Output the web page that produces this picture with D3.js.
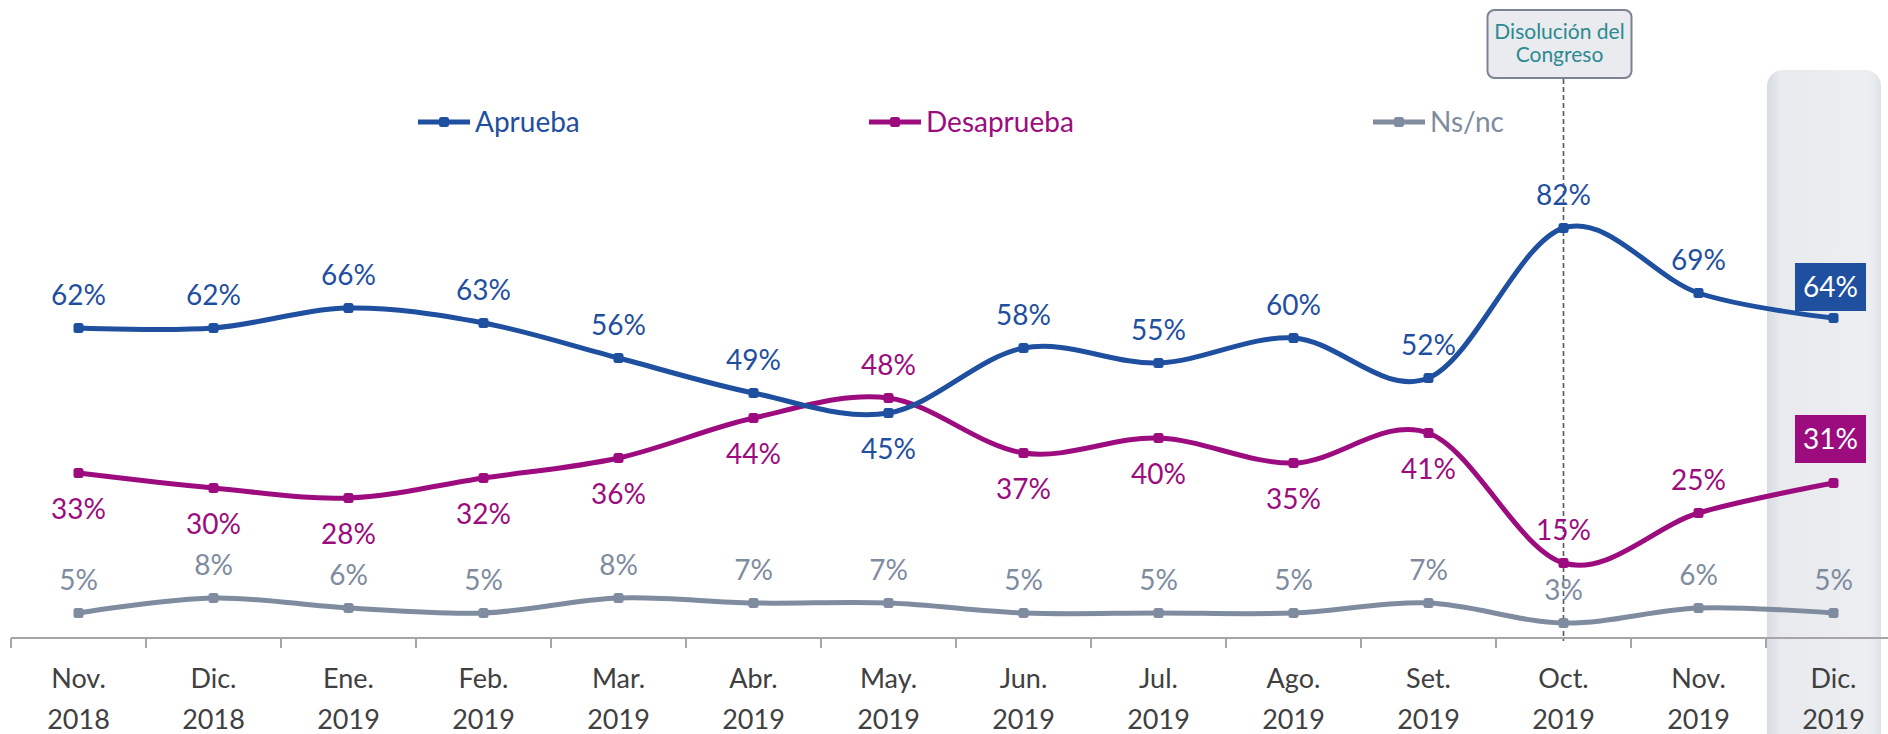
<!DOCTYPE html>
<html><head><meta charset="utf-8">
<script src="https://cdn.jsdelivr.net/npm/d3@7"></script>
<style>html,body{margin:0;padding:0;background:#fff;overflow:hidden}svg{display:block}</style>
</head><body>
<svg id="c" width="1888" height="734"></svg>
<script>
const months = ["Nov.","Dic.","Ene.","Feb.","Mar.","Abr.","May.","Jun.","Jul.","Ago.","Set.","Oct.","Nov.","Dic."];
const years  = ["2018","2018","2019","2019","2019","2019","2019","2019","2019","2019","2019","2019","2019","2019"];
const aprueba    = [62,62,66,63,56,49,45,58,55,60,52,82,69,64];
const desaprueba = [33,30,28,32,36,44,48,37,40,35,41,15,25,31];
const nsnc       = [5,8,6,5,8,7,7,5,5,5,7,3,6,5];
const apruebaPos    = ["a","a","a","a","a","a","b","a","a","a","a","a","a","box"];
const desapruebaPos = ["b","b","b","b","b","b","a","b","b","b","b","a","a","box"];
const nsncPos       = ["a","a","a","a","a","a","a","a","a","a","a","a","a","a"];
const seriesNames = ["Aprueba","Desaprueba","Ns/nc"];
const annotation = ["Disolución del","Congreso"];
const annotIndex = 11;

const colors = {"Aprueba":"#1f4f9f","Desaprueba":"#9c0c7e","Ns/nc":"#7f8b9f"};
const FONT = "Lato, 'Open Sans', sans-serif";
const svg = d3.select("#c");
const defs = svg.append("defs");

const keys = months.map((m,i)=>i);
const x = d3.scaleBand().domain(keys).range([11, 11 + 135*14]);
const cx = i => x(i) + x.bandwidth()/2;
const y = d3.scaleLinear().domain([0,100]).range([638,138]);

// highlight column for last period
const g0 = defs.append("linearGradient").attr("id","hl").attr("x1","0").attr("x2","1").attr("y1","0").attr("y2","0");
g0.append("stop").attr("offset","0").attr("stop-color","#d8dbe2");
g0.append("stop").attr("offset","0.12").attr("stop-color","#e8eaee");
g0.append("stop").attr("offset","0.9").attr("stop-color","#eceef2");
g0.append("stop").attr("offset","1").attr("stop-color","#dfe2e7");
const last = months.length-1;
svg.append("rect").attr("x", x(last)+1).attr("y",70).attr("width",114).attr("height",700)
  .attr("rx",16).attr("fill","url(#hl)");

// axis
const axisG = svg.append("g").attr("transform","translate(0,638)");
axisG.append("line").attr("x1",11).attr("x2",1888).attr("stroke","#a6a6a6").attr("stroke-width",2);
axisG.selectAll("line.tick").data(keys).join("line").attr("class","tick")
  .attr("x1",d=>x(d)).attr("x2",d=>x(d)).attr("y1",0).attr("y2",10)
  .attr("stroke","#a6a6a6").attr("stroke-width",2);
axisG.selectAll("text.m").data(keys).join("text").attr("class","m")
  .attr("x",d=>cx(d)).attr("y",50).attr("text-anchor","middle")
  .attr("font-family",FONT).attr("font-size",27).attr("fill","#404040").text(d=>months[d]);
axisG.selectAll("text.yr").data(keys).join("text").attr("class","yr")
  .attr("x",d=>cx(d)).attr("y",91).attr("text-anchor","middle")
  .attr("font-family",FONT).attr("font-size",27).attr("fill","#404040").text(d=>years[d]);

// annotation
const ax = cx(annotIndex);
svg.append("line").attr("x1",ax).attr("x2",ax).attr("y1",79).attr("y2",641)
  .attr("stroke","#4f5868").attr("stroke-width",1.6).attr("stroke-dasharray","5,3");
svg.append("rect").attr("x",ax-76).attr("y",10).attr("width",144).attr("height",68).attr("rx",7)
  .attr("fill","#e9ebef").attr("stroke","#7b8494").attr("stroke-width",2);
svg.selectAll("text.an").data(annotation).join("text").attr("class","an")
  .attr("x",ax-4).attr("y",(d,i)=>39+i*23).attr("text-anchor","middle")
  .attr("font-family",FONT).attr("font-size",21).attr("fill","#2b8a90").text(d=>d);

// lines
const line = d3.line().x((d,i)=>cx(i)).y(d=>y(d)).curve(d3.curveCatmullRom.alpha(0));
const series = [
  {name:"Aprueba", values:aprueba, pos:apruebaPos},
  {name:"Desaprueba", values:desaprueba, pos:desapruebaPos},
  {name:"Ns/nc", values:nsnc, pos:nsncPos}
];
[series[2],series[1],series[0]].forEach(s=>{
  const c = colors[s.name];
  svg.append("path").datum(s.values).attr("d",line).attr("fill","none")
    .attr("stroke",c).attr("stroke-width",5).attr("stroke-linejoin","round");
  svg.selectAll(null).data(s.values).join("rect")
    .attr("x",(d,i)=>cx(i)-5).attr("y",d=>y(d)-5).attr("width",10).attr("height",10).attr("rx",2.5)
    .attr("fill",c);
});
series.forEach(s=>{
  const c = colors[s.name];
  s.values.forEach((v,i)=>{
    const p = s.pos[i];
    if (p==="box") {
      const bw=71,bh=48;
      const by = s.name==="Aprueba" ? y(v)-55 : y(v)-68;
      svg.append("rect").attr("x",cx(i)-3-bw/2).attr("y",by).attr("width",bw).attr("height",bh).attr("fill",c);
      svg.append("text").attr("x",cx(i)-3).attr("y",by+34).attr("text-anchor","middle")
        .attr("font-family",FONT).attr("font-size",28).attr("fill","#fff").text(v+"%");
    } else {
      svg.append("text").attr("x",cx(i)).attr("y", p==="a" ? y(v)-23 : y(v)+46)
        .attr("text-anchor","middle").attr("font-family",FONT).attr("font-size",28)
        .attr("fill",c).text(v+"%");
    }
  });
});

// legend
const legendX = [418, 869, 1373];
series.forEach((s,k)=>{
  const c = colors[s.name];
  const lg = svg.append("g").attr("transform",`translate(${legendX[k]},122)`);
  lg.append("line").attr("x1",0).attr("x2",52).attr("stroke",c).attr("stroke-width",5);
  lg.append("rect").attr("x",21).attr("y",-5).attr("width",10).attr("height",10).attr("rx",2.5).attr("fill",c);
  lg.append("text").attr("x",57).attr("y",10).attr("font-family",FONT)
    .attr("font-size",28).attr("fill",c).text(s.name);
});
</script>
</body></html>
